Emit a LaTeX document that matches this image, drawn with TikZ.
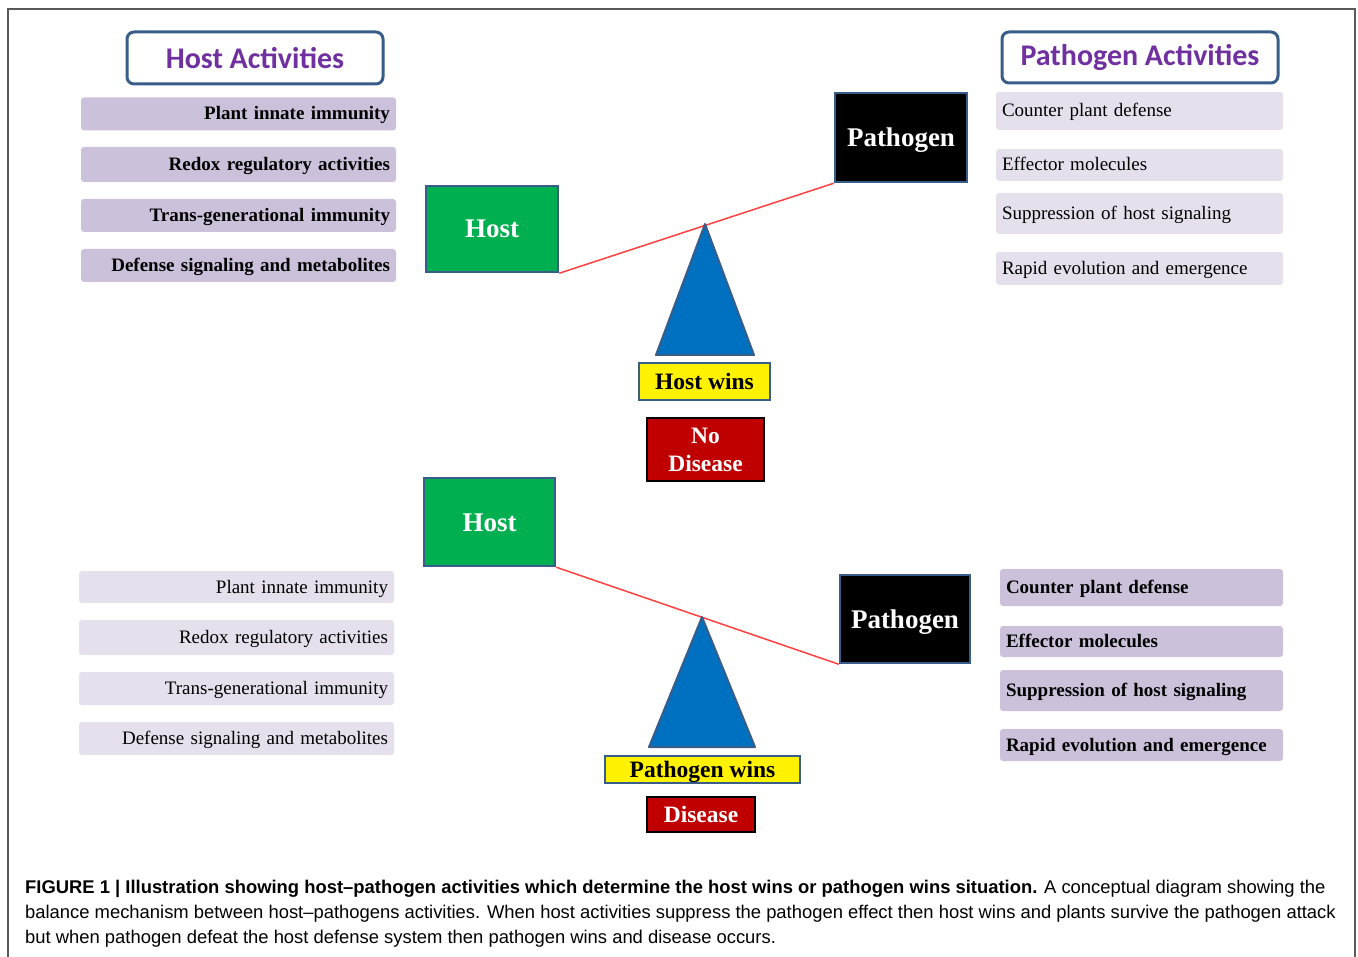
\documentclass[tikz,border=0pt]{standalone}
\usepackage{fontspec}
\setmainfont{Liberation Serif}
\newfontfamily\headfont{Carlito}
\newfontfamily\capfont{Liberation Sans}
\usetikzlibrary{positioning}

\definecolor{framegray}{HTML}{5A5A5A}
\definecolor{boxblue}{HTML}{385D8A}
\definecolor{headpurple}{HTML}{7030A0}
\definecolor{lilacdark}{HTML}{CCC1DA}
\definecolor{lilaclight}{HTML}{E6E0EC}
\definecolor{hostgreen}{HTML}{00B050}
\definecolor{pivotblue}{HTML}{0070C0}
\definecolor{diseasered}{HTML}{C00000}
\definecolor{beamred}{HTML}{FF4040}

\tikzset{
  headbox/.style={draw=boxblue, line width=3pt, rounded corners=7pt, fill=white,
    text=headpurple, font=\headfont\bfseries\fontsize{30}{36}\selectfont},
  actbox/.style={rounded corners=3pt, inner xsep=6pt, inner ysep=0pt,
    text height=14pt, text depth=2pt},
  actdark/.style={actbox, fill=lilacdark, font=\bfseries\fontsize{19}{22}\selectfont},
  actlight/.style={actbox, fill=lilaclight, font=\fontsize{19}{22}\selectfont},
  playerbox/.style={draw=boxblue, line width=2.5pt, text=white,
    text height=18pt, text depth=0pt, font=\bfseries\fontsize{27}{32}\selectfont},
  winbox/.style={draw=boxblue, line width=2pt, fill=yellow, inner sep=0pt,
    text height=15.5pt, text depth=0pt, font=\bfseries\fontsize{23.5}{28}\selectfont},
  diseasebox/.style={draw=black, line width=1.5pt, fill=diseasered, text=white,
    inner sep=0pt, align=center, font=\bfseries\fontsize{23.5}{28}\selectfont},
  beam/.style={draw=beamred, line width=1.5pt},
  pivot/.style={fill=pivotblue, draw=boxblue, line width=2pt, line join=round}
}

\begin{document}
\begin{tikzpicture}[x=1pt, y=-1pt]
  \useasboundingbox (0,0) rectangle (1358,957);
  \draw[framegray, line width=1.2pt] (8,957) -- (8,9) -- (1355,9) -- (1355,957);

  % headings
  \node[headbox, minimum width=256pt, minimum height=52pt] (hostHead) at (255,58) {Host Activities};
  \node[headbox, minimum width=276pt, minimum height=51pt] (pathHead) at (1140,57.5) {Pathogen Activities};

  % host wins (upper half)
  \foreach \yc/\hh/\txt [count=\i] in {114/33/Plant innate immunity, 164.5/35/Redox regulatory activities,
      215.5/33/Trans-generational immunity, 265.5/33/Defense signaling and metabolites}
    \node[actdark, minimum width=315pt, minimum height=\hh pt, text width=303pt, align=right]
      (hostActA\i) at (238.5,\yc) {\txt};
  \foreach \yc/\hh/\txt [count=\i] in {111/38/Counter plant defense, 165/32/Effector molecules,
      213.5/41/Suppression of host signaling, 268.5/33/Rapid evolution and emergence}
    \node[actlight, minimum width=287pt, minimum height=\hh pt, text width=275pt, align=left]
      (pathActA\i) at (1139.5,\yc) {\txt};

  \node[playerbox, fill=hostgreen, minimum width=132pt, minimum height=86pt] (hostA) at (492,229) {Host};
  \node[playerbox, fill=black, minimum width=132pt, minimum height=89pt] (pathA) at (901,137.5) {Pathogen};
  \draw[beam] (hostA.south east) -- (pathA.south west);
  \coordinate (tipA) at (705,224);
  \draw[pivot] (tipA) -- (754,355) -- (656,355) -- cycle;
  \node[winbox, minimum width=131pt, minimum height=37pt] (winA) at (704.5,381.5) {Host wins};
  \node[diseasebox, minimum width=117pt, minimum height=63pt] (resA) at (705.5,449.5) {No\\Disease};

  % pathogen wins (lower half)
  \foreach \yc/\hh/\txt [count=\i] in {587/32/Plant innate immunity, 637.5/35/Redox regulatory activities,
      688.5/33/Trans-generational immunity, 738.5/33/Defense signaling and metabolites}
    \node[actlight, minimum width=315pt, minimum height=\hh pt, text width=303pt, align=right]
      (hostActB\i) at (236.5,\yc) {\txt};
  \foreach \yc/\hh/\txt [count=\i] in {587.5/37/Counter plant defense, 641.5/31/Effector molecules,
      690.5/41/Suppression of host signaling, 745/32/Rapid evolution and emergence}
    \node[actdark, minimum width=283pt, minimum height=\hh pt, text width=271pt, align=left]
      (pathActB\i) at (1141.5,\yc) {\txt};

  \node[playerbox, fill=hostgreen, minimum width=131pt, minimum height=88pt] (hostB) at (489.5,522) {Host};
  \node[playerbox, fill=black, minimum width=130pt, minimum height=88pt] (pathB) at (905,619) {Pathogen};
  \draw[beam] (hostB.south east) -- (pathB.south west);
  \coordinate (tipB) at (702,617);
  \draw[pivot] (tipB) -- (755,747) -- (649,747) -- cycle;
  \node[winbox, minimum width=195pt, minimum height=27pt] (winB) at (702.5,769.5) {Pathogen wins};
  \node[diseasebox, minimum width=108pt, minimum height=35pt] (resB) at (701,814.5) {Disease};

  % caption
  \node[anchor=north west, inner sep=0pt, align=left, font=\capfont\fontsize{18.4}{25}\selectfont]
    (caption) at (25,880) {\textbf{FIGURE 1 | Illustration showing host–pathogen activities which determine the host wins or pathogen wins situation.} A conceptual diagram showing the\\
    balance mechanism between host–pathogens activities. When host activities suppress the pathogen effect then host wins and plants survive the pathogen attack\\
    but when pathogen defeat the host defense system then pathogen wins and disease occurs.};
\end{tikzpicture}
\end{document}
